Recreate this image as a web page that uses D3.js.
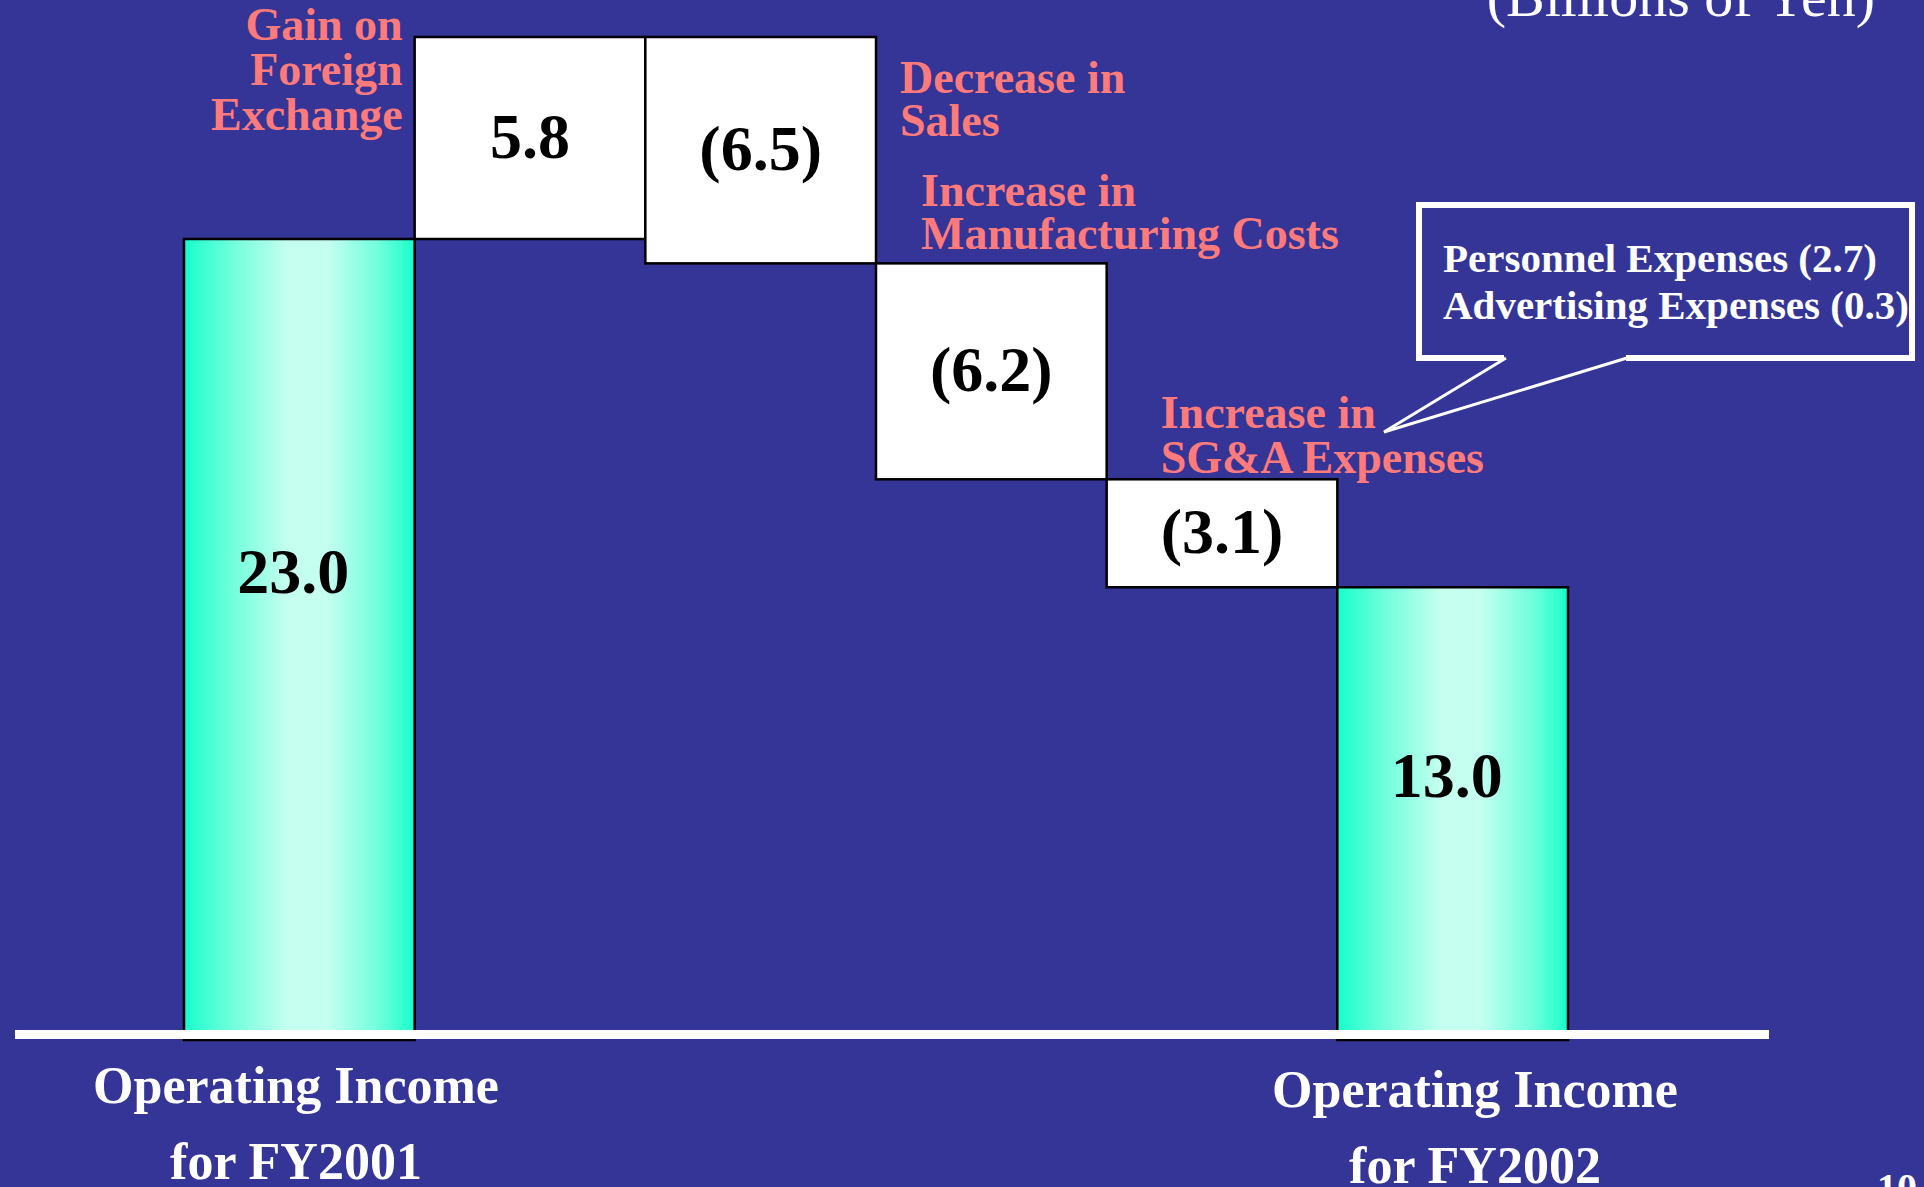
<!DOCTYPE html>
<html>
<head>
<meta charset="utf-8">
<script src="https://cdn.jsdelivr.net/npm/d3@7"></script>
<style>
  html, body { margin: 0; padding: 0; background: #353597; overflow: hidden; }
  svg { display: block; }
  text { font-family: "Liberation Serif", "Times New Roman", serif; }
</style>
</head>
<body>
<svg id="chart" width="1924" height="1187"></svg>
<script>
// ---- data ----
const categories = ["FY2001", "FX", "Sales", "Manufacturing", "SGA", "FY2002"];
const values = [23.0, 5.8, -6.5, -6.2, -3.1, 13.0];
const kinds = ["total", "delta", "delta", "delta", "delta", "total"];
const valueLabels = ["23.0", "5.8", "(6.5)", "(6.2)", "(3.1)", "13.0"];
const factorLabels = [
  ["Gain on", "Foreign", "Exchange"],
  ["Decrease in", "Sales"],
  ["Increase in", "Manufacturing Costs"],
  ["Increase in", "SG&A Expenses"]
];
const calloutLines = ["Personnel Expenses (2.7)", "Advertising Expenses (0.3)"];
const axisLabels = [["Operating Income", "for FY2001"], ["Operating Income", "for FY2002"]];
const unitLabel = "(Billions of Yen)";
const pageNumber = "10";

// ---- layout ----
const W = 1924, H = 1187;
const svg = d3.select("#chart");
svg.append("rect").attr("width", W).attr("height", H).attr("fill", "#353597");

const x = d3.scaleBand().domain(categories).range([184, 1568]).padding(0);
const y = d3.scaleLinear().domain([0, 23]).range([1040, 239]);

// compute waterfall extents
let run = 0;
const rows = categories.map((c, i) => {
  let lo, hi;
  if (kinds[i] === "total") { lo = 0; hi = values[i]; run = values[i]; }
  else { const s = run; run = run + values[i]; lo = Math.min(s, run); hi = Math.max(s, run); }
  return { cat: c, kind: kinds[i], lo, hi, label: valueLabels[i] };
});
const byCat = Object.fromEntries(rows.map(r => [r.cat, r]));

const defs = svg.append("defs");
const grad = defs.append("linearGradient").attr("id", "teal").attr("x1", "0").attr("x2", "1").attr("y1", "0").attr("y2", "0");
[[0, "#16ffcc"], [0.2, "#6dffdb"], [0.45, "#c6fff0"], [0.62, "#c4fff0"], [0.85, "#6dffdb"], [1, "#16ffcc"]]
  .forEach(([o, c]) => grad.append("stop").attr("offset", o).attr("stop-color", c));

// bars
svg.selectAll("rect.bar").data(rows).join("rect")
  .attr("class", "bar")
  .attr("x", d => x(d.cat))
  .attr("width", x.bandwidth())
  .attr("y", d => y(d.hi))
  .attr("height", d => y(d.lo) - y(d.hi))
  .attr("fill", d => d.kind === "total" ? "url(#teal)" : "#ffffff")
  .attr("stroke", "#000")
  .attr("stroke-width", 2.5);

// value labels
svg.selectAll("text.val").data(rows).join("text")
  .attr("class", "val")
  .attr("x", d => x(d.cat) + x.bandwidth() / 2 - (d.kind === "total" ? 6 : 0))
  .attr("y", d => d.kind === "total"
      ? y(d.hi) + 0.415 * (y(d.lo) - y(d.hi)) + 22
      : (y(d.hi) + y(d.lo)) / 2 + 20)
  .attr("text-anchor", "middle")
  .attr("font-size", 64)
  .attr("font-weight", "bold")
  .attr("fill", "#000")
  .text(d => d.label);

// baseline
svg.append("rect").attr("x", 15).attr("y", 1030).attr("width", 1754).attr("height", 9).attr("fill", "#fff");

// factor labels
const salmon = "#ff7a7a";
const mfgLast = y(byCat["Manufacturing"].hi) - 14;   // keep the label just above the (6.2) box
const factorPos = [
  { x: x("FX") - 12, y: 40, anchor: "end", lh: 45 },
  { x: x("Sales") + x.bandwidth() + 24, y: 93, anchor: "start", lh: 43 },
  { x: x("Sales") + x.bandwidth() + 45, y: mfgLast - 43, anchor: "start", lh: 43 },
  { x: x("SGA") + 54, y: 428, anchor: "start", lh: 45 }
];
factorLabels.forEach((lines, i) => {
  const p = factorPos[i];
  const t = svg.append("text")
    .attr("x", p.x).attr("y", p.y)
    .attr("text-anchor", p.anchor)
    .attr("font-size", 46).attr("font-weight", "bold").attr("fill", salmon);
  lines.forEach((l, j) => t.append("tspan").attr("x", p.x).attr("y", p.y + j * p.lh).text(l));
});

// callout
const cL = 1419, cR = 1912, cT = 205, cB = 358;
svg.append("path")
  .attr("d", `M1504,${cB} L${cL},${cB} L${cL},${cT} L${cR},${cT} L${cR},${cB} L1626,${cB}`)
  .attr("fill", "none").attr("stroke", "#fff").attr("stroke-width", 6);
svg.append("path")
  .attr("d", `M1506,${cB} L1384,432 L1627,${cB}`)
  .attr("fill", "none").attr("stroke", "#fff").attr("stroke-width", 3).attr("stroke-linejoin", "miter");
calloutLines.forEach((l, i) => {
  svg.append("text").attr("x", 1443).attr("y", 272 + i * 47)
    .attr("font-size", 41).attr("font-weight", "bold").attr("fill", "#fff").text(l);
});

// unit label (partially cut at top)
svg.append("text").attr("x", 1875).attr("y", 16).attr("text-anchor", "end")
  .attr("font-size", 58).attr("fill", "#fff").text(unitLabel);

// category axis labels
const axisPos = [{ cx: 296, y: 1103 }, { cx: 1475, y: 1107 }];
axisLabels.forEach((lines, i) => {
  lines.forEach((l, j) => {
    svg.append("text").attr("x", axisPos[i].cx).attr("y", axisPos[i].y + j * 76)
      .attr("text-anchor", "middle").attr("font-size", 52).attr("font-weight", "bold")
      .attr("fill", "#fff").text(l);
  });
});

// page number (cut at bottom)
svg.append("text").attr("x", 1877).attr("y", 1201)
  .attr("font-size", 40).attr("font-weight", "bold").attr("fill", "#fff").text(pageNumber);
</script>
</body>
</html>
